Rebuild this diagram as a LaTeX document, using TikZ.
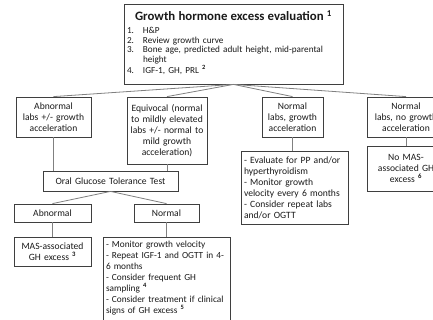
\documentclass[tikz,border=0pt]{standalone}
\usepackage{fontspec}
\setmainfont{Carlito}
\definecolor{boxc}{HTML}{3F3F3F}
\definecolor{linec}{HTML}{808080}
\definecolor{txtc}{HTML}{1A1A1A}
\newcommand{\bodyf}{\fontsize{9.6}{11}\selectfont}
\newcommand{\sups}[1]{\textsuperscript{\textbf{#1}}}
\newcommand{\itm}[1]{\leavevmode\llap{\makebox[16pt][l]{#1}}}
\begin{document}
\begin{tikzpicture}[x=1pt,y=-1pt,
  box/.style={draw=boxc, line width=0.8pt, inner sep=0pt, align=center, font=\bodyf, text=txtc},
  lbox/.style={box, align=left},
  conn/.style={draw=linec, line width=0.8pt}]
\useasboundingbox (0,0) rectangle (433,320);
\clip (0,0) rectangle (433,320);
\fill[white] (0,0) rectangle (433,320);
% top box
\node[box, align=left, minimum width=219, minimum height=80, text width=213] (top) at (233.5,44)
{{\centering\fontsize{12.8}{14}\selectfont\bfseries Growth hormone excess evaluation \sups{1}\par}
\vspace{3pt}\fontsize{9.2}{9.6}\selectfont\leftskip=16pt
\itm{1.}H\&P\par
\itm{2.}Review growth curve\par
\itm{3.}Bone age, predicted adult height, mid-parental\newline height\par
\itm{4.}IGF-1, GH, PRL \sups{2}\par\vspace{3pt}};
% first row
\node[box, minimum width=75, minimum height=40, text width=73] (A) at (53.5,117)
{Abnormal\\labs +/- growth\\acceleration};
\node[box, minimum width=80, minimum height=67, text width=78] (B) at (167,130.5)
{Equivocal (normal\\to mildly elevated\\labs +/- normal to\\mild growth\\acceleration)};
\node[box, minimum width=61, minimum height=40, text width=59] (C) at (292.5,117)
{Normal\\labs, growth\\acceleration};
\node[box, minimum width=78, minimum height=40, text width=76] (D) at (406,117)
{Normal\\labs, no growth\\acceleration};
% OGTT branch
\node[box, minimum width=135, minimum height=20, text width=130] (ogtt) at (110.5,181)
{Oral Glucose Tolerance Test};
\node[box, minimum width=77, minimum height=18, text width=74] (abn) at (52.5,213) {Abnormal};
\node[box, minimum width=65, minimum height=18, text width=62] (nor) at (166.5,213) {Normal};
\node[box, minimum width=77, minimum height=29, text width=75] (mas) at (52.5,251.5)
{MAS-associated\\GH excess \sups{3}};
\node[lbox, minimum width=127, minimum height=96, text width=121,
  font={\fontsize{9.3}{11}\selectfont\hyphenpenalty=10000}] (l1) at (166.5,285)
{- Monitor growth velocity\\
- Repeat IGF-1 and OGTT in 4-\\
6 months\\
- Consider frequent GH\\
sampling \sups{4}\\
- Consider treatment if clinical\\
signs of GH excess \sups{5}\\[4pt]\mbox{}};
% right branches
\node[lbox, minimum width=107, minimum height=73, text width=101] (l2) at (294.5,187.5)
{- Evaluate for PP and/or\\
hyperthyroidism\\
- Monitor growth\\
velocity every 6 months\\
- Consider repeat labs\\
and/or OGTT};
\node[box, minimum width=78, minimum height=45, text width=76] (d2) at (406,168.5)
{No MAS-\\associated GH\\excess \sups{6}};
% connectors
\draw[conn] (top.south) -- (A.north);
\draw[conn] (top.south) -- (B.north);
\draw[conn] (top.south) -- (C.north);
\draw[conn] (top.south) -- (D.north);
\draw[conn] (A.south) -- (A.south |- ogtt.north);
\draw[conn] (B.south) -- (B.south |- ogtt.north);
\draw[conn] (ogtt.south) -- (abn.north);
\draw[conn] (ogtt.south) -- (nor.north);
\draw[conn] (abn.south) -- (mas.north);
\draw[conn] (nor.south) -- (nor.south |- l1.north);
\draw[conn] (C.south) -- (C.south |- l2.north);
\draw[conn] (D.south) -- (d2.north);
\end{tikzpicture}
\end{document}
